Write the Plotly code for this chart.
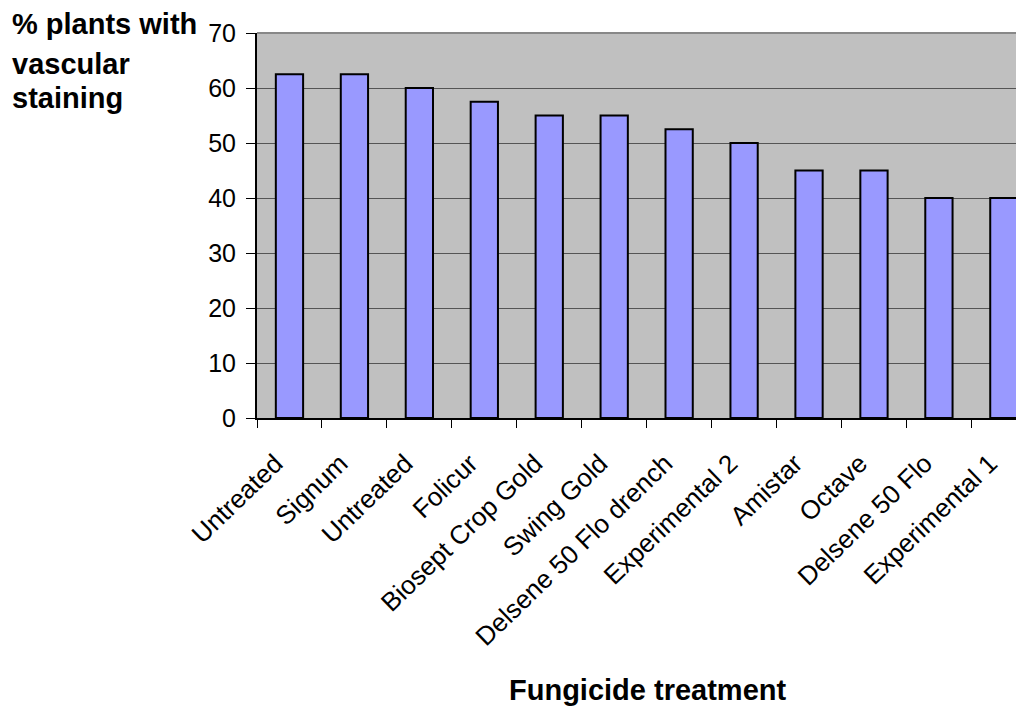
import plotly.graph_objects as go

categories = ["Untreated", "Signum", "Untreated", "Folicur", "Biosept Crop Gold",
              "Swing Gold", "Delsene 50 Flo drench", "Experimental 2", "Amistar",
              "Octave", "Delsene 50 Flo", "Experimental 1"]
values = [62.5, 62.5, 60, 57.5, 55, 55, 52.5, 50, 45, 45, 40, 40]
y_ticks = [0, 10, 20, 30, 40, 50, 60, 70]

# page has an 8px body margin; figure is sized so the screen layout matches
OFF = 8
W, H = 1024 - OFF, 706 - OFF
PLOT_L, PLOT_T, PLOT_B, PLOT_R = 257, 33, 418, 1024   # screen pixels
ML, MT = PLOT_L - OFF, PLOT_T - OFF
MB = H - (PLOT_B - OFF)
MR = 0
PH = PLOT_B - PLOT_T

def py(ys):
    return (PLOT_B - ys) / PH

def px(xs):
    return (xs - PLOT_L) / (PLOT_R - PLOT_L)

n = len(categories)
xs = list(range(n))

fig = go.Figure()
fig.add_trace(go.Bar(
    x=xs, y=values, width=0.42,
    marker=dict(color="#9999FF", line=dict(color="black", width=2)),
    showlegend=False, hoverinfo="skip",
))

font = "Arial, Liberation Sans, sans-serif"

fig.update_layout(
    width=W, height=H,
    margin=dict(l=ML, r=MR, t=MT, b=MB, autoexpand=False),
    paper_bgcolor="white", plot_bgcolor="#C0C0C0",
    font=dict(family=font, size=25, color="black"),
    xaxis=dict(
        range=[-0.5, 11.31], tickmode="array", tickvals=xs, ticktext=categories,
        tickangle=-44, ticks="", showgrid=False, zeroline=False,
        showline=True, linecolor="black", linewidth=2,
        tickfont=dict(size=26, family=font),
        ticklabelstandoff=18, ticklabelshift=-14,
        minor=dict(tickmode="array", tickvals=[i - 0.5 for i in range(n + 1)],
                   ticks="outside", ticklen=8, tickcolor="black", tickwidth=1,
                   showgrid=False),
    ),
    yaxis=dict(
        range=[0, 70], tickmode="array", tickvals=y_ticks,
        ticks="outside", ticklen=9, tickcolor="black", tickwidth=1,
        showgrid=True, gridcolor="#555555", gridwidth=1,
        zeroline=False, showline=True, linecolor="black", linewidth=2,
        tickfont=dict(size=25, family=font), ticklabelstandoff=5,
    ),
    shapes=[dict(type="line", xref="paper", yref="paper", x0=0, x1=1, y0=1, y1=1,
                 line=dict(color="#888888", width=2))],
)

ann_font = dict(family=font, size=29, color="black")
for txt, ys in [("<b>% plants with</b>", 24), ("<b>vascular</b>", 64), ("<b>staining</b>", 98)]:
    fig.add_annotation(text=txt, xref="paper", yref="paper", x=px(10), y=py(ys),
                       xanchor="left", yanchor="middle", showarrow=False, font=ann_font)

fig.add_annotation(text="<b>Fungicide treatment</b>", xref="paper", yref="paper",
                   x=px(647), y=py(690), xanchor="center", yanchor="middle",
                   showarrow=False, font=dict(family=font, size=29, color="black"))

fig.write_html("out.html")
